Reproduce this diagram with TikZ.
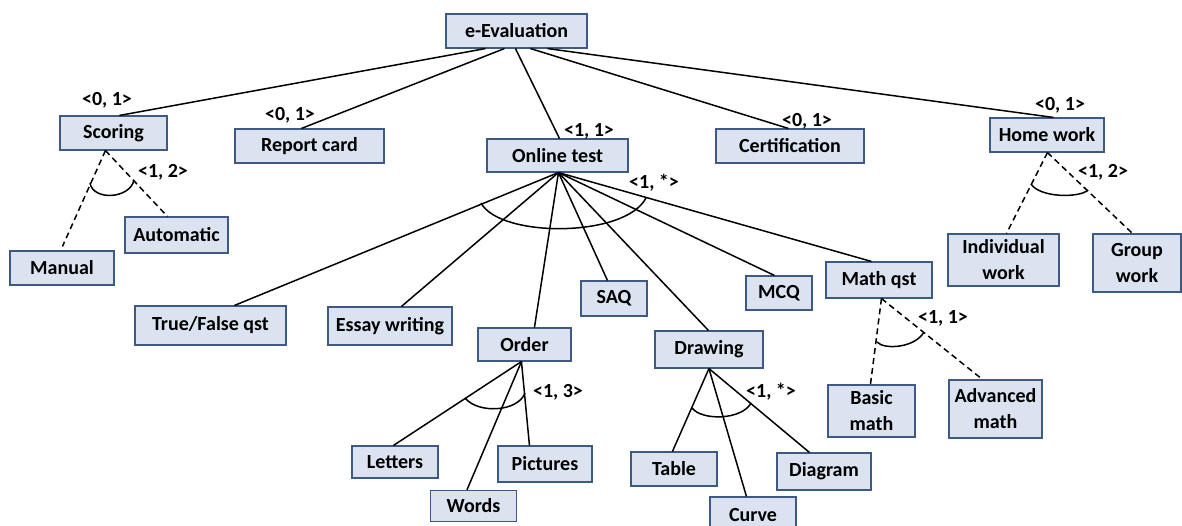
\documentclass[tikz,border=0pt]{standalone}
\usepackage{fontspec}
\setmainfont{Carlito}
\usetikzlibrary{calc}

\definecolor{boxfill}{HTML}{DAE3EF}
\definecolor{boxline}{HTML}{3E5A82}

\tikzset{
  box/.style={draw=boxline, fill=boxfill, line width=1.1pt, inner sep=0pt,
    align=center, font=\bfseries\fontsize{20}{26}\selectfont},
  card/.style={font=\bfseries\fontsize{20}{24}\selectfont, inner sep=0pt},
  link/.style={line width=1.5pt, black},
  optlink/.style={link, dash pattern=on 6pt off 4pt},
  grouparc/.style={line width=1.5pt, black},
}

\begin{document}
\begin{tikzpicture}[x=1pt, y=-1pt]
\useasboundingbox (0,0) rectangle (1182,525);

% ---- feature boxes ----
\node[box, minimum width=141pt, minimum height=34pt] (eval)      at (516.5,31)   {e-Evaluation};
\node[box, minimum width=107pt, minimum height=34pt] (scoring)   at (113.5,133)  {Scoring};
\node[box, minimum width=149pt, minimum height=34pt] (report)    at (309.5,146)  {Report card};
\node[box, minimum width=141pt, minimum height=33pt] (online)    at (557.5,155.5){Online test};
\node[box, minimum width=148pt, minimum height=34pt] (cert)      at (790,146)    {Certification};
\node[box, minimum width=114pt, minimum height=34pt] (homework)  at (1047,135)   {Home work};
\node[box, minimum width=104pt, minimum height=34pt] (manual)    at (62,268)     {Manual};
\node[box, minimum width=103pt, minimum height=36pt] (automatic) at (176.5,235)  {Automatic};
\node[box, minimum width=111pt, minimum height=52pt] (indiv)     at (1003.5,260) {Individual\\work};
\node[box, minimum width=88pt,  minimum height=58pt] (group)     at (1137,263)   {Group\\work};
\node[box, minimum width=151pt, minimum height=39pt] (truefalse) at (210.5,325.5){True/False qst};
\node[box, minimum width=124pt, minimum height=38pt] (essay)     at (390,326)    {Essay writing};
\node[box, minimum width=66pt,  minimum height=35pt] (saq)       at (614,298.5)  {SAQ};
\node[box, minimum width=66pt,  minimum height=34pt] (mcq)       at (779,293)    {MCQ};
\node[box, minimum width=106pt, minimum height=36pt] (mathqst)   at (879,280)    {Math qst};
\node[box, minimum width=93pt,  minimum height=33pt] (order)     at (524.5,344.5){Order};
\node[box, minimum width=108pt, minimum height=37pt] (drawing)   at (709,349.5)  {Drawing};
\node[box, minimum width=87pt,  minimum height=52pt] (basic)     at (871.5,411)  {Basic\\math};
\node[box, minimum width=93pt,  minimum height=58pt] (advanced)  at (995.5,409)  {Advanced\\math};
\node[box, minimum width=86pt,  minimum height=32pt] (letters)   at (395,462)    {Letters};
\node[box, minimum width=94pt,  minimum height=36pt] (pictures)  at (545,464)    {Pictures};
\node[box, minimum width=86pt,  minimum height=31pt] (words)     at (473.5,506)  {Words};
\node[box, minimum width=86pt,  minimum height=34pt] (table)     at (674,469)    {Table};
\node[box, minimum width=86pt,  minimum height=36pt] (curve)     at (753,515)    {Curve};
\node[box, minimum width=94pt,  minimum height=37pt] (diagram)   at (824,471.5)  {Diagram};

% ---- root links ----
\draw[link] ([xshift=40pt]eval.south west)  -- ([xshift=60pt]scoring.north west);
\draw[link] ([xshift=59pt]eval.south west)  -- ([xshift=67pt]report.north west);
\draw[link] ([xshift=70pt]eval.south west)  -- ([xshift=73pt]online.north west);
\draw[link] ([xshift=85pt]eval.south west)  -- ([xshift=73pt]cert.north west);
\draw[link] ([xshift=102pt]eval.south west) -- ([xshift=64pt]homework.north west);

% ---- scoring alternatives ----
\coordinate (manualtop) at ([xshift=53pt,yshift=4pt]manual.north west);
\draw[optlink] ([xshift=46pt]scoring.south west) -- (manualtop);
\draw[optlink] ([xshift=46pt]scoring.south west) -- ([xshift=43pt]automatic.north west);
\draw[grouparc] (90,183) .. controls (93,201) and (130,199) .. (134,180);

% ---- online test children ----
\coordinate (otapex) at ([xshift=72pt]online.south west);
\draw[link] (otapex) -- ([xshift=100pt]truefalse.north west);
\draw[link] (otapex) -- ([xshift=74pt]essay.north west);
\draw[link] (otapex) -- ([xshift=57pt]order.north west);
\draw[link] (otapex) -- ([xshift=27pt]saq.north west);
\draw[link] (otapex) -- ([xshift=54pt]drawing.north west);
\draw[link] (otapex) -- ([xshift=29pt]mcq.north west);
\draw[link] (otapex) -- ([xshift=46pt]mathqst.north west);
\draw[grouparc] (481,203) .. controls (500,238) and (625,238) .. (646,198);

% ---- home work alternatives ----
\draw[optlink] ([xshift=58pt]homework.south west) -- ([xshift=59pt]indiv.north west);
\draw[optlink] ([xshift=58pt]homework.south west) -- ([xshift=40pt]group.north west);
\draw[grouparc] (1031,184) .. controls (1040,198) and (1080,198) .. (1088,190);

% ---- math question alternatives ----
\draw[optlink] ([xshift=56pt]mathqst.south west) -- ([xshift=43pt]basic.north west);
\draw[optlink] ([xshift=56pt]mathqst.south west) -- ([xshift=34pt]advanced.north west);
\draw[grouparc] (877,342) .. controls (884,350) and (915,348) .. (924,332);

% ---- order children ----
\draw[link] ([xshift=44pt]order.south west) -- ([xshift=42pt]letters.north west);
\draw[link] ([xshift=44pt]order.south west) -- ([xshift=37pt]words.north west);
\draw[link] ([xshift=44pt]order.south west) -- ([xshift=32pt]pictures.north west);
\draw[grouparc] (465,398) .. controls (478,414) and (518,412) .. (525,393);

% ---- drawing children ----
\draw[link] ([xshift=54.5pt]drawing.south west) -- ([xshift=42pt]table.north west);
\draw[link] ([xshift=54.5pt]drawing.south west) -- ([xshift=37pt]curve.north west);
\draw[link] ([xshift=54.5pt]drawing.south west) -- ([xshift=33pt]diagram.north west);
\draw[grouparc] (692,408) .. controls (702,421) and (742,420) .. (751,403);

% ---- cardinalities ----
\node[card] (cscoring)  at (107,100)  {<0, 1>};
\node[card] (creport)   at (290,115)  {<0, 1>};
\node[card] (conline)   at (589,131)  {<1, 1>};
\node[card] (ccert)     at (807,121)  {<0, 1>};
\node[card] (chome)     at (1060,105) {<0, 1>};
\node[card] (cscgrp)    at (163,172)  {<1, 2>};
\node[card] (cotgrp)    at (654,183)  {<1, *>};
\node[card] (chwgrp)    at (1103,172) {<1, 2>};
\node[card] (cmathgrp)  at (943,318)  {<1, 1>};
\node[card] (cordgrp)   at (558,392)  {<1, 3>};
\node[card] (cdrwgrp)   at (771,392)  {<1, *>};
\end{tikzpicture}
\end{document}
